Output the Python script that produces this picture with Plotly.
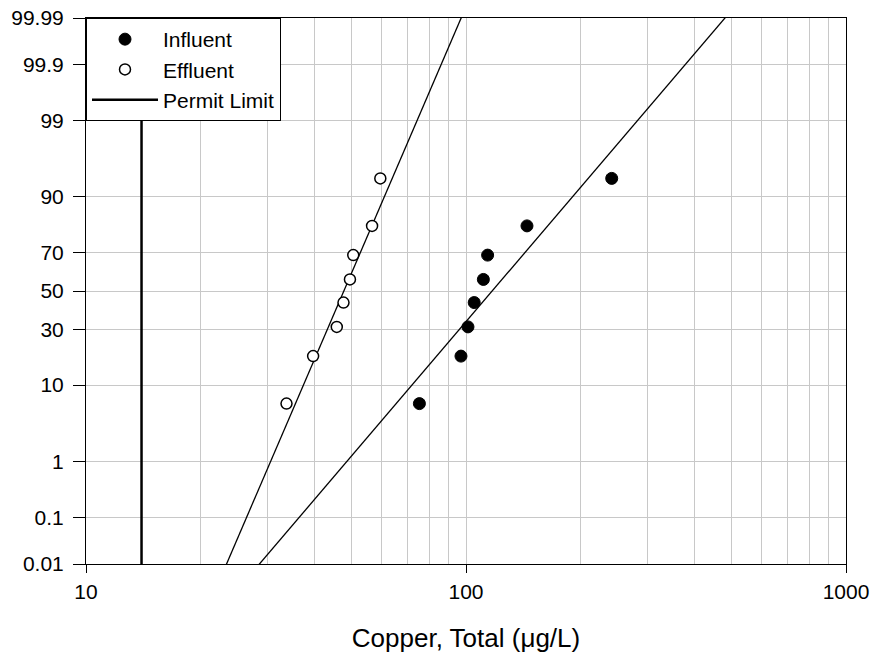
import math
from statistics import NormalDist
import plotly.graph_objects as go

# ---- data ----
effluent_cu = [33.7, 39.6, 45.7, 47.6, 49.5, 50.5, 56.6, 59.5]
influent_cu = [75.4, 97.0, 101.2, 105.1, 111.1, 114.0, 144.7, 241.8]
cum_pct = [6.25, 18.75, 31.25, 43.75, 56.25, 68.75, 81.25, 93.75]

y_ticks = [0.01, 0.1, 1, 10, 30, 50, 70, 90, 99, 99.9, 99.99]
y_tick_labels = ["0.01", "0.1", "1", "10", "30", "50", "70", "90", "99", "99.9", "99.99"]
x_ticks = [10, 100, 1000]
x_tick_labels = ["10", "100", "1000"]
x_minor = [20, 30, 40, 50, 60, 70, 80, 90, 200, 300, 400, 500, 600, 700, 800, 900]

permit_limit = 14.0
# lognormal fit lines: (geometric mean, log10 standard deviation)
effluent_fit = (47.7, 0.0830)
influent_fit = (117.2, 0.1647)

# ---- probability-scale transform ----
nd = NormalDist()


def zscore(p):
    return nd.inv_cdf(p / 100.0)


z_lo, z_hi = zscore(y_ticks[0]), zscore(y_ticks[-1])


def fit_line(fit):
    gm, s = fit
    zz = [z_lo - 0.3, z_hi + 0.3]
    return [10 ** (math.log10(gm) + s * v) for v in zz], zz


FONT = "Liberation Sans, Arial, sans-serif"

fig = go.Figure()

# fit lines
for fit in (effluent_fit, influent_fit):
    fx, fz = fit_line(fit)
    fig.add_trace(go.Scatter(x=fx, y=fz, mode="lines", showlegend=False,
                             line=dict(color="black", width=1.3), hoverinfo="skip"))

fig.add_trace(go.Scatter(
    x=influent_cu, y=[zscore(p) for p in cum_pct], mode="markers", name="Influent",
    marker=dict(symbol="circle", size=12, color="black", line=dict(color="black", width=1))))
fig.add_trace(go.Scatter(
    x=effluent_cu, y=[zscore(p) for p in cum_pct], mode="markers", name="Effluent",
    marker=dict(symbol="circle", size=11, color="white", line=dict(color="black", width=1.5))))
fig.add_trace(go.Scatter(
    x=[permit_limit, permit_limit], y=[z_lo, z_hi], mode="lines", name="Permit Limit",
    line=dict(color="black", width=2.5)))

fig.update_layout(
    width=873, height=661,
    margin=dict(l=86, r=27, t=18, b=97, autoexpand=False),
    paper_bgcolor="white", plot_bgcolor="white",
    font=dict(family=FONT, size=21, color="black"),
    legend=dict(x=0, y=1, xanchor="left", yanchor="top",
                bgcolor="white", bordercolor="black", borderwidth=1,
                itemwidth=66, font=dict(size=21), traceorder="normal"),
)

fig.update_xaxes(
    type="log", range=[1, 3], automargin=False,
    tickmode="array", tickvals=x_ticks, ticktext=x_tick_labels,
    ticks="outside", ticklen=8, tickwidth=1, tickcolor="black",
    showline=True, linecolor="black", linewidth=1, mirror=True,
    showgrid=True, gridcolor="#c8c8c8", gridwidth=1,
    minor=dict(tickmode="array", tickvals=x_minor, showgrid=True,
               gridcolor="#c8c8c8", gridwidth=1, ticks=""),
    zeroline=False, ticklabelstandoff=1,
    title=dict(text="Copper, Total (\u03bcg/L)", font=dict(size=26), standoff=26),
)
fig.update_yaxes(
    range=[z_lo, z_hi], automargin=False,
    tickmode="array", tickvals=[zscore(p) for p in y_ticks], ticktext=y_tick_labels,
    ticks="outside", ticklen=12, tickwidth=1, tickcolor="black",
    showline=True, linecolor="black", linewidth=1, mirror=True,
    showgrid=True, gridcolor="#c8c8c8", gridwidth=1,
    zeroline=False, ticklabelstandoff=5,
)

fig.write_html(
    "out.html",
    config={"displayModeBar": False},
    post_script="document.body.style.margin='0';document.body.style.overflow='hidden';",
)
